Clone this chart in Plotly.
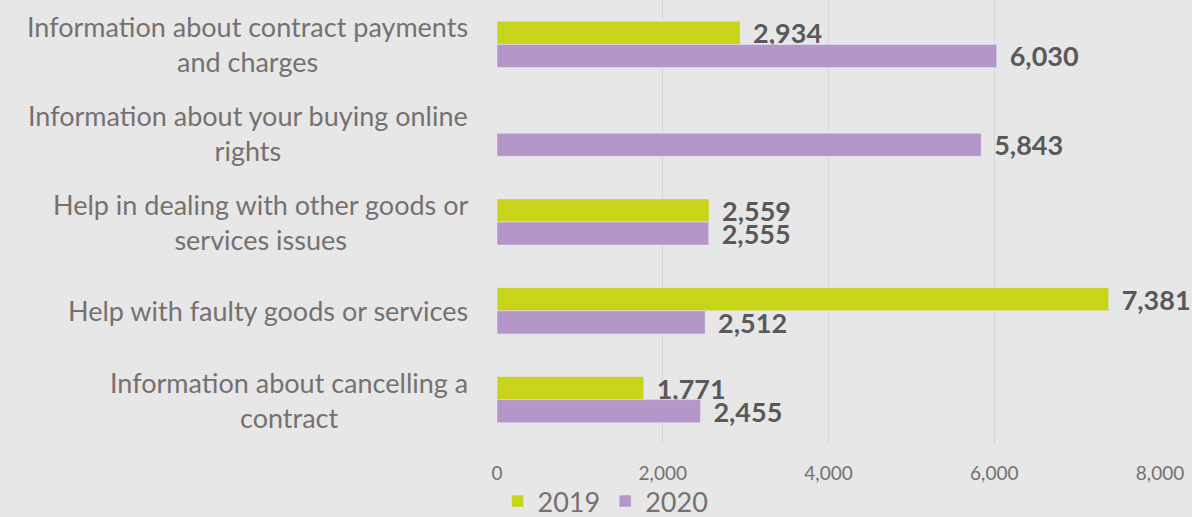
import plotly.graph_objects as go

categories = [
    "Information about contract payments<br>and charges",
    "Information about your buying online<br>rights",
    "Help in dealing with other goods or<br>services issues",
    "Help with faulty goods or services",
    "Information about cancelling a<br>contract",
]
values_2019 = [2934, None, 2559, 7381, 1771]
values_2020 = [6030, 5843, 2555, 2512, 2455]
x_ticks = [0, 2000, 4000, 6000, 8000]

FONT = "Lato"
LABEL_COLOR = "#595959"
AXIS_COLOR = "#767171"

def labels(vals):
    return ["\u00a0\u2009" + f"{v:,}" if v is not None else "" for v in vals]

fig = go.Figure()
fig.add_trace(go.Bar(
    name="2019", y=categories, x=values_2019, orientation="h",
    marker=dict(color="#c8d419"),
    text=labels(values_2019), textposition="outside", cliponaxis=False,
    constraintext="none",
    textfont=dict(family=FONT, size=27, color=LABEL_COLOR, weight="bold"),
))
fig.add_trace(go.Bar(
    name="2020", y=categories, x=values_2020, orientation="h",
    marker=dict(color="#b496c8"),
    text=labels(values_2020), textposition="outside", cliponaxis=False,
    constraintext="none",
    textfont=dict(family=FONT, size=27, color=LABEL_COLOR, weight="bold"),
))

annotations = []
for c in categories:
    annotations.append(dict(
        x=0, xref="paper", y=c, yref="y", text=c, showarrow=False,
        xanchor="right", xshift=-27, align="center",
        font=dict(family=FONT, size=27, color=AXIS_COLOR),
    ))

fig.update_layout(
    width=1192, height=517,
    paper_bgcolor="#e7e7e7", plot_bgcolor="#e7e7e7",
    margin=dict(l=497, r=32, t=0, b=73, autoexpand=False),
    barmode="group", bargap=0.48, bargroupgap=0,
    showlegend=True,
    legend=dict(orientation="h", x=0.508, xanchor="center", xref="container",
                y=0.03, yanchor="middle", yref="container",
                font=dict(family=FONT, size=27, color=AXIS_COLOR),
                itemwidth=30, bgcolor="rgba(0,0,0,0)"),
    xaxis=dict(range=[0, 8000], tickvals=x_ticks, tickformat=",",
               showgrid=True, gridcolor="#d6d6d6", gridwidth=1,
               zeroline=False, showline=False, automargin=False,
               tickfont=dict(family=FONT, size=19, color=AXIS_COLOR),
               ticklen=12, tickcolor="rgba(0,0,0,0)", ticks="outside"),
    yaxis=dict(autorange="reversed", showticklabels=False, showgrid=False,
               zeroline=False, showline=False, automargin=False),
    annotations=annotations,
)

fig.write_html("out.html", config={"displayModeBar": False},
               post_script="document.body.style.margin='0';document.body.style.padding='0';document.body.style.overflow='hidden';")
